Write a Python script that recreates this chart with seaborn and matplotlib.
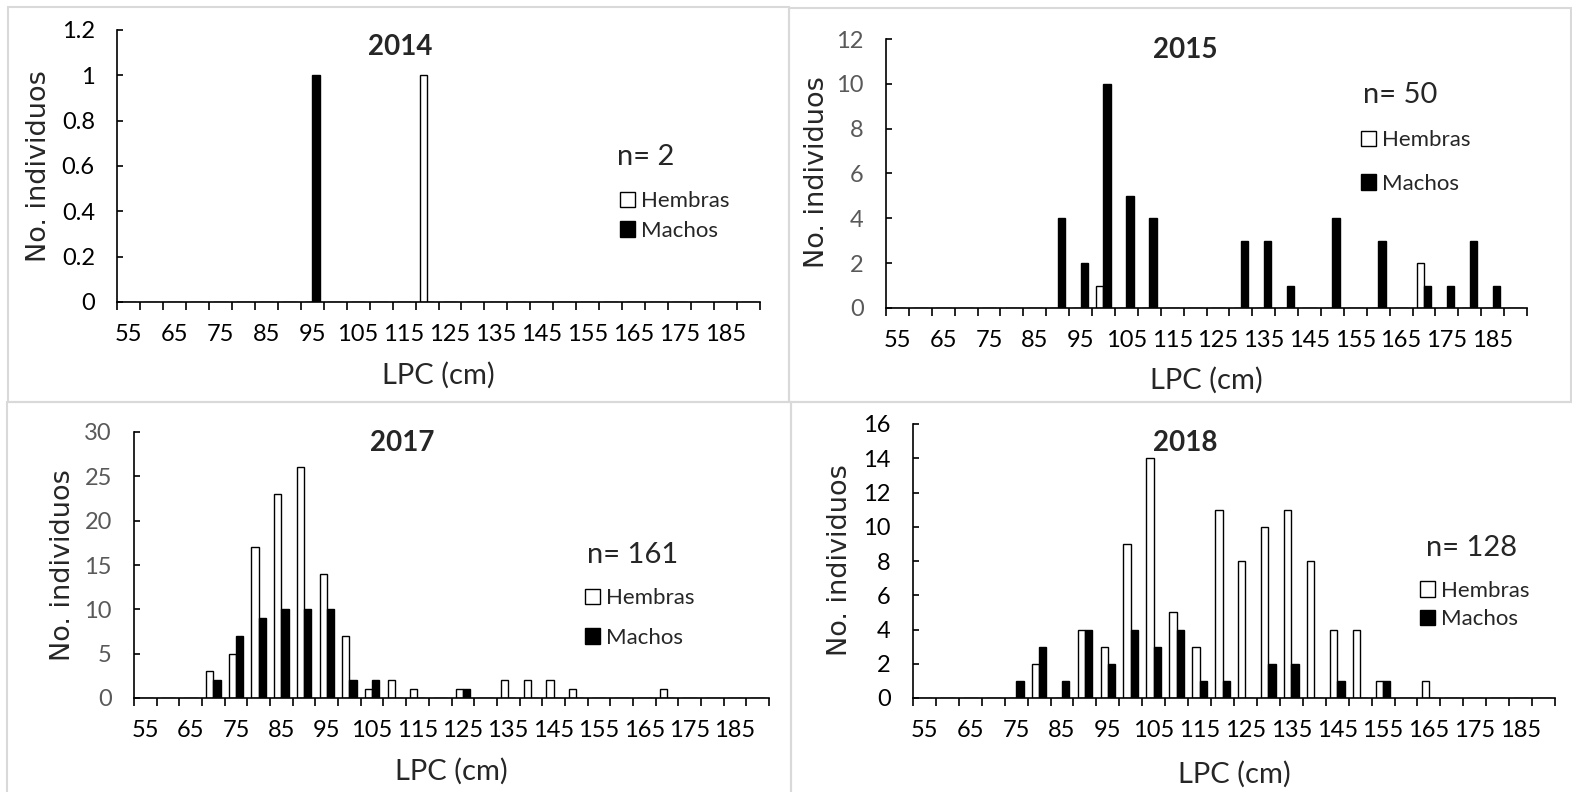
import numpy as np
import pandas as pd
import matplotlib
matplotlib.use("Agg")
import matplotlib.pyplot as plt
from matplotlib.patches import Patch, Rectangle
import seaborn as sns

sns.set_theme(style="white")
plt.rcParams["font.family"] = ["Lato", "DejaVu Sans"]

# ---------------- data ----------------
lpc = list(range(55, 195, 5))                      # 28 size classes (cm)
xtick_labels = [str(v) for v in range(55, 190, 10)]
sexes = ["Hembras", "Machos"]

h2014 = [0,0,0,0,0,0,0,0,0,0,0,0,0,1,0,0,0,0,0,0,0,0,0,0,0,0,0,0]
m2014 = [0,0,0,0,0,0,0,0,1,0,0,0,0,0,0,0,0,0,0,0,0,0,0,0,0,0,0,0]

h2015 = [0,0,0,0,0,0,0,0,0,1,0,0,0,0,0,0,0,0,0,0,0,0,0,2,0,0,0,0]
m2015 = [0,0,0,0,0,0,0,4,2,10,5,4,0,0,0,3,3,1,0,4,0,3,0,1,1,3,1,0]

h2017 = [0,0,0,3,5,17,23,26,14,7,1,2,1,0,1,0,2,2,2,1,0,0,0,1,0,0,0,0]
m2017 = [0,0,0,2,7,9,10,10,10,2,2,0,0,0,1,0,0,0,0,0,0,0,0,0,0,0,0,0]

h2018 = [0,0,0,0,0,2,0,4,3,9,14,5,3,11,8,10,11,8,4,4,1,0,1,0,0,0,0,0]
m2018 = [0,0,0,0,1,3,1,4,2,4,3,4,1,1,0,2,2,0,1,0,1,0,0,0,0,0,0,0]

years = ["2014", "2015", "2017", "2018"]
n_totals = [2, 50, 161, 128]
yticks_2014 = [0, 0.2, 0.4, 0.6, 0.8, 1, 1.2]
ylabels_2014 = ["0", "0.2", "0.4", "0.6", "0.8", "1", "1.2"]
yticks_2015 = [0, 2, 4, 6, 8, 10, 12]
yticks_2017 = [0, 5, 10, 15, 20, 25, 30]
yticks_2018 = [0, 2, 4, 6, 8, 10, 12, 14, 16]

# ---------------- layout (pixels) ----------------
W, H = 1572, 792
fig = plt.figure(figsize=(W / 100, H / 100), dpi=100)


def fx(px):
    return px / W


def fy(py):
    return 1 - py / H


panels = [
    dict(year=years[0], n=n_totals[0], h=h2014, m=m2014, box=(117, 30, 760, 302),
         yticks=yticks_2014, ylabels=ylabels_2014, ycolor="black",
         title=(400, 47), npos=(617, 157), leg=(620, 216), legsp=0.43,
         ylab=(39, 166), xlab_y=375),
    dict(year=years[1], n=n_totals[1], h=h2015, m=m2015, box=(886, 39, 1527, 308),
         yticks=yticks_2015, ylabels=[str(v) for v in yticks_2015], ycolor="#595959",
         title=(1185, 50), npos=(1363, 95), leg=(1361, 162), legsp=1.06,
         ylab=(817, 172), xlab_y=380),
    dict(year=years[2], n=n_totals[2], h=h2017, m=m2017, box=(134, 432, 769, 698),
         yticks=yticks_2017, ylabels=[str(v) for v in yticks_2017], ycolor="#595959",
         title=(402, 443), npos=(587, 555), leg=(585, 618), legsp=0.88,
         ylab=(63, 565), xlab_y=771),
    dict(year=years[3], n=n_totals[3], h=h2018, m=m2018, box=(913, 424, 1555, 698),
         yticks=yticks_2018, ylabels=[str(v) for v in yticks_2018], ycolor="black",
         title=(1185, 443), npos=(1426, 548), leg=(1420, 605), legsp=0.39,
         ylab=(840, 560), xlab_y=774),
]

# panel frames
for (x0, y0, x1, y1) in [(8, 7, 789, 402), (789, 8, 1571, 402),
                         (7, 402, 791, 795), (791, 402, 1575, 795)]:
    fig.add_artist(Rectangle((fx(x0), fy(y1)), fx(x1) - fx(x0), (y1 - y0) / H,
                             transform=fig.transFigure, fill=False,
                             edgecolor="#d9d9d9", linewidth=1.5))

order = [str(v) for v in lpc]
for p in panels:
    l, t, r, b = p["box"]
    ax = fig.add_axes([fx(l), fy(b), (r - l) / W, (b - t) / H])
    df = pd.DataFrame({
        "LPC": order * 2,
        "Sexo": [sexes[0]] * len(lpc) + [sexes[1]] * len(lpc),
        "n": p["h"] + p["m"],
    })
    sns.barplot(data=df, x="LPC", y="n", hue="Sexo", order=order, hue_order=sexes,
                palette={"Hembras": "white", "Machos": "black"}, saturation=1,
                edgecolor="black", linewidth=1.0, width=0.64, errorbar=None,
                legend=False, ax=ax)
    ax.set_facecolor("none")
    ax.set_xlim(-0.5, len(lpc) - 0.5)
    ax.set_ylim(p["yticks"][0], p["yticks"][-1])

    ax.set_xticks(range(0, len(lpc), 2))
    ax.set_xticklabels(xtick_labels)
    ax.set_xticks(np.arange(-0.5, len(lpc), 1), minor=True)
    ax.tick_params(axis="x", which="major", length=0, pad=16, labelsize=17,
                   labelcolor="black")
    ax.tick_params(axis="x", which="minor", length=6, width=1.2, direction="out",
                   color="black", bottom=True)
    ax.set_yticks(p["yticks"])
    ax.set_yticklabels(p["ylabels"])
    ax.tick_params(axis="y", which="major", direction="in", length=4, width=1.2,
                   pad=16, labelsize=17, labelcolor=p["ycolor"], color="black",
                   left=True)

    for s in ["top", "right"]:
        ax.spines[s].set_visible(False)
    for s in ["left", "bottom"]:
        ax.spines[s].set_color("black")
        ax.spines[s].set_linewidth(1.2)

    ax.set_xlabel("LPC (cm)", fontsize=21, va="center")
    ax.xaxis.set_label_coords(0.5, (b - p["xlab_y"]) / (b - t))
    ax.set_ylabel("No. individuos", fontsize=19.5, family="DejaVu Sans",
                  va="center", ha="center")
    ax.yaxis.set_label_coords((p["ylab"][0] - l) / (r - l), (b - p["ylab"][1]) / (b - t))

    tx, ty = p["title"]
    fig.text(fx(tx), fy(ty), p["year"], ha="center", va="center",
             fontsize=20, fontweight="bold")
    nx, ny = p["npos"]
    fig.text(fx(nx), fy(ny), f"n= {p['n']}", ha="left", va="center", fontsize=21)

    handles = [Patch(facecolor="white", edgecolor="black", linewidth=1.0),
               Patch(facecolor="black", edgecolor="black", linewidth=1.0)]
    lx, ly = p["leg"]
    ax.legend(handles=handles, labels=sexes, loc="center left",
              bbox_to_anchor=(fx(lx), fy(ly)), bbox_transform=fig.transFigure,
              frameon=False, fontsize=16, handlelength=0.68, handleheight=0.68,
              handletextpad=0.25, labelspacing=p["legsp"], borderpad=0,
              borderaxespad=0)

fig.savefig("out.png", dpi=100, facecolor="white")
